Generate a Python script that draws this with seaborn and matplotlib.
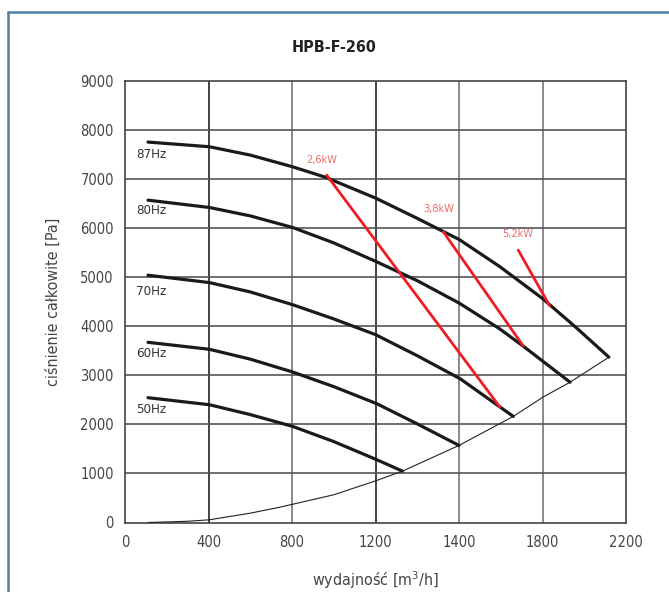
import numpy as np
import pandas as pd
import seaborn as sns
import matplotlib.pyplot as plt
from matplotlib.lines import Line2D

# fan curves, x in chart units (tick positions 0..2400 step 400)
hz87_x = [110, 404, 600, 803, 959, 1200, 1400, 1602, 1794, 2000, 2164, 2318]
hz87_y = [7755, 7660, 7490, 7251, 7040, 6614, 6200, 5766, 5220, 4566, 3963, 3370]
hz80_x = [110, 404, 600, 803, 1000, 1200, 1400, 1602, 1794, 1907, 2132]
hz80_y = [6571, 6422, 6250, 6014, 5700, 5325, 4930, 4470, 3950, 3597, 2860]
hz70_x = [110, 404, 600, 803, 1000, 1200, 1400, 1605, 1860]
hz70_y = [5041, 4891, 4700, 4440, 4150, 3830, 3400, 2932, 2163]
hz60_x = [110, 404, 600, 803, 1000, 1206, 1400, 1600]
hz60_y = [3673, 3531, 3330, 3068, 2770, 2422, 2010, 1571]
hz50_x = [110, 404, 600, 803, 1000, 1206, 1329]
hz50_y = [2544, 2401, 2200, 1959, 1650, 1280, 1047]

# system curve
sys_x = [110, 300, 404, 600, 742, 1000, 1206, 1329, 1600, 1860, 2004, 2132, 2318]
sys_y = [0, 25, 55, 190, 312, 565, 857, 1047, 1571, 2163, 2560, 2860, 3370]

# power lines
kw_names = ["2,6kW", "3,8kW", "5,2kW"]
kw_x = [[966, 1796], [1525, 1908], [1884, 2034]]
kw_y = [[7082, 2353], [5924, 3597], [5551, 4420]]
kw_lx = [942, 1501, 1881]
kw_ly = [7388, 6381, 5878]

hz_names = ["87Hz", "80Hz", "70Hz", "60Hz", "50Hz"]
hz_ly = [7504, 6367, 4700, 3443, 2300]

x_ticks = [0, 400, 800, 1200, 1600, 2000, 2400]
x_labels = ["0", "400", "800", "1200", "1400", "1800", "2200"]
y_ticks = list(range(0, 9001, 1000))

sns.set_style("white")
plt.rcParams['font.family'] = ['DejaVu Sans']
plt.rcParams['font.stretch'] = 'condensed'

fig = plt.figure(figsize=(6.69, 5.92), dpi=100)
ax = fig.add_axes([125 / 669, 1 - 522.5 / 592, 501 / 669, 441.5 / 592])

# grid
vcols = ['#222222', '#777777', '#222222', '#777777', '#777777']
for xv, c in zip(x_ticks[1:-1], vcols):
    ax.axvline(xv, color=c, lw=1.2, zorder=1)
for yv in y_ticks[1:-1]:
    ax.axhline(yv, color='#555555', lw=1.2, zorder=1)

curves = [(hz87_x, hz87_y), (hz80_x, hz80_y), (hz70_x, hz70_y),
          (hz60_x, hz60_y), (hz50_x, hz50_y)]
for (cx, cy), name, ly in zip(curves, hz_names, hz_ly):
    sns.lineplot(x=cx, y=cy, ax=ax, color='#1a1a1a', lw=2.3, sort=False, zorder=3)
    ax.text(54, ly, name, fontsize=9.5, color='#333333', va='center', ha='left')

sns.lineplot(x=sys_x, y=sys_y, ax=ax, color='#222222', lw=0.8, sort=False, zorder=3)

for name, lx, ly, px, py in zip(kw_names, kw_lx, kw_ly, kw_x, kw_y):
    sns.lineplot(x=px, y=py, ax=ax, color='#ee1c25', lw=2.0, sort=False, zorder=4)
    ax.text(lx, ly, name, fontsize=7.8, color='#f06a6a', ha='center', va='center')

ax.set_xlim(0, 2400)
ax.set_ylim(0, 9000)
ax.set_xticks(x_ticks)
ax.set_xticklabels(x_labels)
ax.set_yticks(y_ticks)
ax.tick_params(axis='both', length=0, labelsize=10.5, labelcolor='#444444')
ax.tick_params(axis='x', pad=9)
ax.tick_params(axis='y', pad=8)
for s in ax.spines.values():
    s.set_color('#444444')
    s.set_linewidth(1.2)

ax.set_xlabel("wydajność [m$^3$/h]", fontsize=11.5, color='#444444', labelpad=14)
ax.set_ylabel("ciśnienie całkowite [Pa]", fontsize=11.5, color='#444444', labelpad=14)
fig.text(334 / 669, 1 - 47 / 592, "HPB-F-260", fontsize=11.5, fontweight='bold',
         color='#222222', ha='center', va='center')

# outer frame
fig.add_artist(Line2D([8 / 669, 1], [1 - 12 / 592, 1 - 12 / 592], color='#4f7fa8', lw=1.8))
fig.add_artist(Line2D([8 / 669, 8 / 669], [0, 1 - 12 / 592], color='#4f7fa8', lw=1.8))

fig.savefig("out.png", dpi=100)
